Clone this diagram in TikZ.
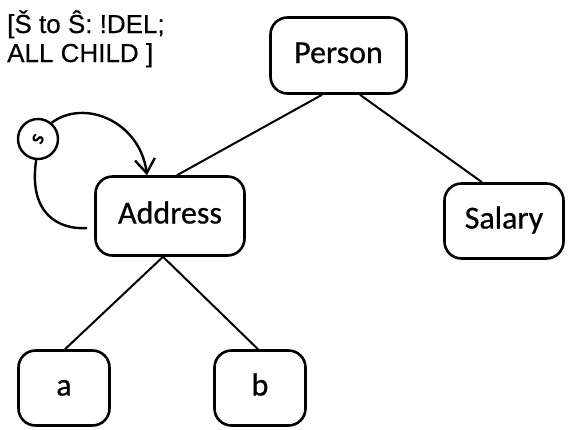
\documentclass[tikz,border=0pt]{standalone}
\usepackage{fontspec}
\setmainfont{Carlito}[FakeBold=0.6]
\newfontfamily\notefont{Liberation Sans}[FakeBold=0.5]
\newfontfamily\markfont{Carlito}[FakeBold=2]
\usetikzlibrary{arrows.meta,calc}
\begin{document}
\begin{tikzpicture}[x=1pt,y=-1pt,
  entity/.style={draw, line width=2.6pt, rounded corners=17pt, inner sep=0pt,
    text height=22pt, text depth=7pt,
    font=\fontsize{32}{36}\selectfont},
  link/.style={line width=2pt},
  note/.style={anchor=base west, inner sep=0pt, font=\notefont\fontsize{26}{29}\selectfont},
  marker/.style={draw, circle, line width=2.4pt, minimum size=40pt, inner sep=0pt}]
\useasboundingbox (0,0) rectangle (568,429);

% annotation text
\node[note] (n1) at (7,33) {[Š to Ŝ: !DEL;};
\node[note] (n2) at (7,62) {ALL CHILD ]};

% entity boxes
\node[entity, minimum width=136pt, minimum height=76pt] (person)  at (338.5,55.5) {Person};
\node[entity, minimum width=149pt, minimum height=79pt] (address) at (170,216) {Address};
\node[entity, minimum width=119pt, minimum height=75pt] (salary)  at (504,221) {Salary};
\node[entity, minimum width=91pt,  minimum height=75pt] (a)       at (64,388) {a};
\node[entity, minimum width=91pt,  minimum height=75pt] (b)       at (260,388) {b};

% tree edges
\draw[link] ([xshift=-16.5pt]person.south) -- ([xshift=7pt]address.north);
\draw[link] ([xshift=21.5pt]person.south) -- ([xshift=-22pt]salary.north);
\draw[link] ([xshift=-7pt]address.south) -- ([xshift=1pt]a.north);
\draw[link] ([xshift=-7pt]address.south) -- ([xshift=-2pt]b.north);

% self-loop marker with its circle
\node[marker] (loop) at (38,139) {\rotatebox{65}{\markfont\fontsize{22}{22}\selectfont s}};
\coordinate (loopend) at ([xshift=-7pt,yshift=-12pt]address.west);
\draw[link, line width=2.4pt, -{Straight Barb[length=14pt,width=20pt,line width=2.4pt]}]
  (loop.50) .. controls (85,98) and (140,122) .. ([xshift=-23pt]address.north);
\draw[link, line width=2.4pt]
  (loop.265) .. controls (28,215) and (60,230) .. (loopend);
\end{tikzpicture}
\end{document}
